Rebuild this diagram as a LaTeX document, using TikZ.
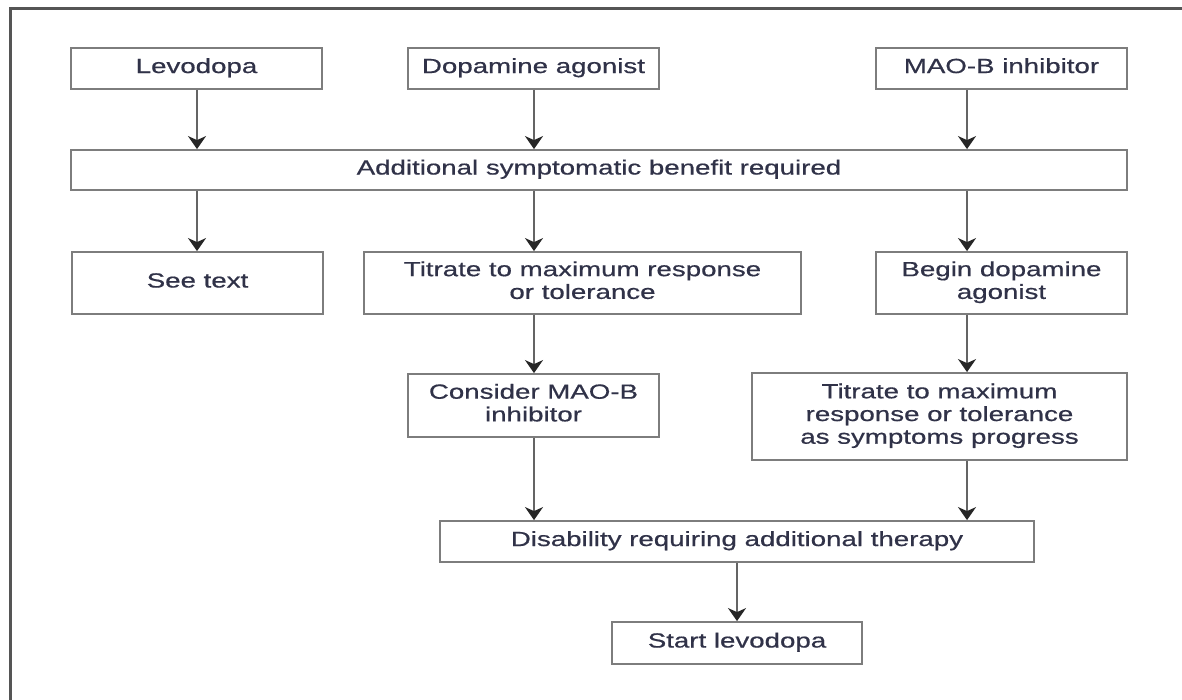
\documentclass[tikz,border=0pt]{standalone}
\usepackage{fontspec}
\setmainfont{Liberation Sans}[FakeBold=0.5]
\usepackage{graphicx}
\usetikzlibrary{arrows.meta}
\definecolor{txt}{RGB}{48,50,72}
\definecolor{bord}{RGB}{125,125,125}
\definecolor{shaft}{RGB}{100,100,100}
\definecolor{frame}{RGB}{85,85,85}
\newcommand{\bt}[1]{\scalebox{1.35}[1]{\begin{tabular}{@{}c@{}}#1\end{tabular}}}
\tikzset{
  box/.style={draw=bord, line width=1.8pt, fill=white, inner sep=0pt, text=txt,
    font=\fontsize{20.5}{22.7}\selectfont, align=center},
  arr/.style={draw=shaft, line width=1.8pt, -{Stealth[length=13pt,width=18pt,inset=4pt,color=black!85]}}
}
\begin{document}
\begin{tikzpicture}[x=1pt,y=-1pt]
\useasboundingbox (0,0) rectangle (1182,700);
\fill[white] (0,0) rectangle (1182,700);
\draw[frame, line width=3pt] (10,700) -- (10,9) -- (1182,9);

\coordinate (c1) at (197,0);
\coordinate (c2) at (534,0);
\coordinate (c3) at (967,0);
\coordinate (c4) at (737,0);

\node[box, minimum width=251pt, minimum height=41pt] (lev) at (196.5,68.5) {\bt{Levodopa}};
\node[box, minimum width=251pt, minimum height=41pt] (dop) at (533.5,68.5) {\bt{Dopamine agonist}};
\node[box, minimum width=251pt, minimum height=41pt] (mao) at (1001.5,68.5) {\bt{MAO-B inhibitor}};
\node[box, minimum width=1056pt, minimum height=40pt] (add) at (599,170) {\bt{Additional symptomatic benefit required}};
\node[box, minimum width=251pt, minimum height=62pt] (see) at (197.5,283) {\bt{See text}};
\node[box, minimum width=437pt, minimum height=62pt] (tit) at (582.5,283) {\bt{Titrate to maximum response\\or tolerance}};
\node[box, minimum width=251pt, minimum height=62pt] (beg) at (1001.5,283) {\bt{Begin dopamine\\agonist}};
\node[box, minimum width=251pt, minimum height=63pt] (con) at (533.5,405.5) {\bt{Consider MAO-B\\inhibitor}};
\node[box, minimum width=375pt, minimum height=87pt] (tir) at (939.5,416.5) {\bt{Titrate to maximum\\response or tolerance\\as symptoms progress}};
\node[box, minimum width=594pt, minimum height=41pt] (dis) at (737,541.5) {\bt{Disability requiring additional therapy}};
\node[box, minimum width=250pt, minimum height=42pt] (sta) at (737,643) {\bt{Start levodopa}};

\draw[arr] (lev.south -| c1) -- (add.north -| c1);
\draw[arr] (dop.south -| c2) -- (add.north -| c2);
\draw[arr] (mao.south -| c3) -- (add.north -| c3);
\draw[arr] (add.south -| c1) -- (see.north -| c1);
\draw[arr] (add.south -| c2) -- (tit.north -| c2);
\draw[arr] (add.south -| c3) -- (beg.north -| c3);
\draw[arr] (tit.south -| c2) -- (con.north -| c2);
\draw[arr] (beg.south -| c3) -- (tir.north -| c3);
\draw[arr] (con.south -| c2) -- (dis.north -| c2);
\draw[arr] (tir.south -| c3) -- (dis.north -| c3);
\draw[arr] (dis.south -| c4) -- (sta.north -| c4);
\end{tikzpicture}
\end{document}
